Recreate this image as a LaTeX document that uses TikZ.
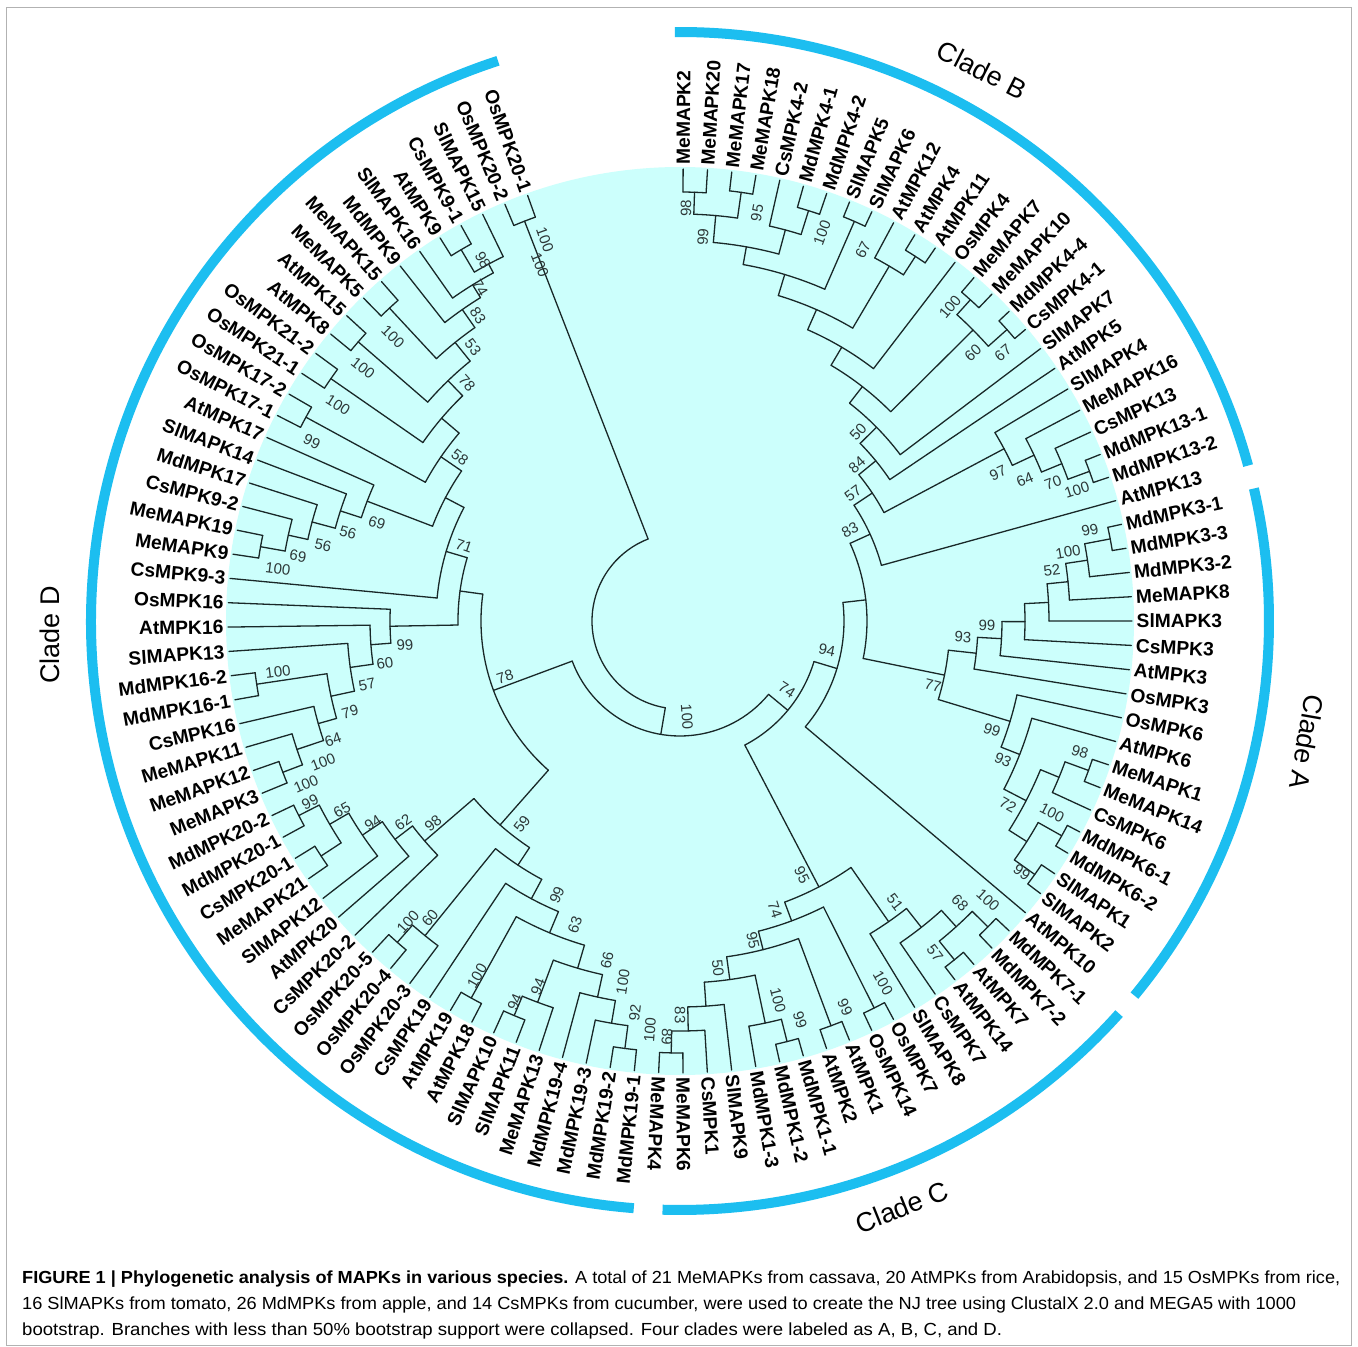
\documentclass[tikz,border=0pt]{standalone}
\usepackage{fontspec}
\setmainfont{Liberation Sans}
\usepackage{graphicx}
\definecolor{cyanbg}{RGB}{204,255,252}
\definecolor{ringblue}{RGB}{28,190,240}
\definecolor{brcol}{RGB}{25,40,40}
\definecolor{bscol}{RGB}{45,55,55}
\newcommand\capfont{\fontsize{17.5}{20}\selectfont}
\newsavebox\capA\newsavebox\capB\newsavebox\capC
\newlength\capwA\newlength\capwB\newlength\capwC
\newcounter{bsc}
\makeatletter
\newcommand\Leaf[3]{%
  \pgfmathsetmacro\tlA{89.6-(#2-1)*3.09}%
  \expandafter\xdef\csname TA@#1\endcsname{\tlA}%
  \expandafter\xdef\csname TR@#1\endcsname{452}%
  \ifnum#2<61\relax
    \node[leaflab,anchor=west,rotate=\tlA] (#1) at (\tlA:455pt) {#3};%
  \else
    \pgfmathsetmacro\tlR{\tlA+180}%
    \node[leaflab,anchor=east,rotate=\tlR] (#1) at (\tlA:455pt) {#3};%
  \fi}
\newcommand\Inode[3]{%
  \let\tfirst\relax
  \@for\tnC:=#3\do{\ifx\tfirst\relax\edef\tfirst{\tnC}\fi\edef\tlast{\tnC}}%
  \edef\tfa{\csname TA@\tfirst\endcsname}%
  \edef\tla{\csname TA@\tlast\endcsname}%
  \pgfmathsetmacro\tna{(\tfa+\tla)/2}%
  \expandafter\xdef\csname TA@#1\endcsname{\tna}%
  \expandafter\xdef\csname TR@#1\endcsname{#2}%
  \draw[br] (\tfa:#2pt) arc[start angle=\tfa, end angle=\tla, radius=#2pt];%
  \@for\tnC:=#3\do{%
    \edef\tca{\csname TA@\tnC\endcsname}\edef\tcr{\csname TR@\tnC\endcsname}%
    \draw[br] (\tca:#2pt) -- (\tca:\tcr pt);}%
  \coordinate (#1) at (\tna:#2pt);}
\newcommand\BS[3]{%
  \stepcounter{bsc}%
  \pgfmathsetmacro\bx{#1-680}\pgfmathsetmacro\by{621-#2}%
  \pgfmathsetmacro\ba{atan2(\by,\bx)}%
  \pgfmathsetmacro\brot{(\ba>-93.5 && \ba<95) ? \ba : \ba+180}%
  \node[bslab,rotate=\brot] (bs\thebsc) at (\bx pt,\by pt) {#3};}
\makeatother
\tikzset{
  br/.style={draw=brcol, line width=1.3pt, line cap=round},
  leaflab/.style={font=\fontsize{19.2}{22}\selectfont\bfseries, inner sep=1.5pt, text=black},
  bslab/.style={font=\fontsize{15}{17}\selectfont, text=bscol, inner sep=0pt},
  cladelab/.style={font=\fontsize{27}{30}\selectfont, text=black},
  ring/.style={draw=ringblue, line width=10pt},
  capline/.style={anchor=base west, inner sep=0pt},
}
\begin{document}
\sbox\capA{\capfont\textbf{FIGURE 1 | Phylogenetic analysis of MAPKs in various species.} A total of 21 MeMAPKs from cassava, 20 AtMPKs from Arabidopsis, and 15 OsMPKs from rice,}%
\sbox\capB{\capfont 16 SlMAPKs from tomato, 26 MdMPKs from apple, and 14 CsMPKs from cucumber, were used to create the NJ tree using ClustalX 2.0 and MEGA5 with 1000}%
\sbox\capC{\capfont bootstrap. Branches with less than 50\% bootstrap support were collapsed. Four clades were labeled as A, B, C, and D.}%
\setlength\capwA{\wd\capA}\setlength\capwB{\wd\capB}\setlength\capwC{\wd\capC}%
\pgfmathsetmacro\capsfA{1318/\capwA}\pgfmathsetmacro\capsfB{1274/\capwB}\pgfmathsetmacro\capsfC{980/\capwC}%
\begin{tikzpicture}
\useasboundingbox (-680pt,621pt) rectangle (678pt,-726pt);
\fill[white] (-680pt,621pt) rectangle (678pt,-726pt);
\draw[gray!60, line width=1pt] (-673pt,613pt) rectangle (671pt,-724pt);
\fill[cyanbg] (0,0) circle[radius=454pt];
% clade rings
\draw[ring] (90.5:589pt) arc[start angle=90.5, end angle=15.3, radius=589pt];
\draw[ring] (13:589pt) arc[start angle=13, end angle=-39.5, radius=589pt];
\draw[ring] (-41.8:589pt) arc[start angle=-41.8, end angle=-91.7, radius=589pt];
\draw[ring] (-94.5:589pt) arc[start angle=-94.5, end angle=-252, radius=589pt];
\node[cladelab, rotate=-27] (cB) at (302pt,551pt) {Clade B};
\node[cladelab, rotate=-100] (cA) at (627pt,-121pt) {Clade A};
\node[cladelab, rotate=22] (cC) at (222pt,-586pt) {Clade C};
\node[cladelab, rotate=90] (cD) at (-630pt,-14pt) {Clade D};
% leaves
\Leaf{l1}{1}{MeMAPK2}\Leaf{l2}{2}{MeMAPK20}\Leaf{l3}{3}{MeMAPK17}\Leaf{l4}{4}{MeMAPK18}
\Leaf{l5}{5}{CsMPK4-2}\Leaf{l6}{6}{MdMPK4-1}\Leaf{l7}{7}{MdMPK4-2}\Leaf{l8}{8}{SlMAPK5}
\Leaf{l9}{9}{SlMAPK6}\Leaf{l10}{10}{AtMPK12}\Leaf{l11}{11}{AtMPK4}\Leaf{l12}{12}{AtMPK11}
\Leaf{l13}{13}{OsMPK4}\Leaf{l14}{14}{MeMAPK7}\Leaf{l15}{15}{MeMAPK10}\Leaf{l16}{16}{MdMPK4-4}
\Leaf{l17}{17}{CsMPK4-1}\Leaf{l18}{18}{SlMAPK7}\Leaf{l19}{19}{AtMPK5}\Leaf{l20}{20}{SlMAPK4}
\Leaf{l21}{21}{MeMAPK16}\Leaf{l22}{22}{CsMPK13}\Leaf{l23}{23}{MdMPK13-1}\Leaf{l24}{24}{MdMPK13-2}
\Leaf{l25}{25}{AtMPK13}\Leaf{l26}{26}{MdMPK3-1}\Leaf{l27}{27}{MdMPK3-3}\Leaf{l28}{28}{MdMPK3-2}
\Leaf{l29}{29}{MeMAPK8}\Leaf{l30}{30}{SlMAPK3}\Leaf{l31}{31}{CsMPK3}\Leaf{l32}{32}{AtMPK3}
\Leaf{l33}{33}{OsMPK3}\Leaf{l34}{34}{OsMPK6}\Leaf{l35}{35}{AtMPK6}\Leaf{l36}{36}{MeMAPK1}
\Leaf{l37}{37}{MeMAPK14}\Leaf{l38}{38}{CsMPK6}\Leaf{l39}{39}{MdMPK6-1}\Leaf{l40}{40}{MdMPK6-2}
\Leaf{l41}{41}{SlMAPK1}\Leaf{l42}{42}{SlMAPK2}\Leaf{l43}{43}{AtMPK10}\Leaf{l44}{44}{MdMPK7-1}
\Leaf{l45}{45}{MdMPK7-2}\Leaf{l46}{46}{AtMPK7}\Leaf{l47}{47}{AtMPK14}\Leaf{l48}{48}{CsMPK7}
\Leaf{l49}{49}{SlMAPK8}\Leaf{l50}{50}{OsMPK7}\Leaf{l51}{51}{OsMPK14}\Leaf{l52}{52}{AtMPK1}
\Leaf{l53}{53}{AtMPK2}\Leaf{l54}{54}{MdMPK1-1}\Leaf{l55}{55}{MdMPK1-2}\Leaf{l56}{56}{MdMPK1-3}
\Leaf{l57}{57}{SlMAPK9}\Leaf{l58}{58}{CsMPK1}\Leaf{l59}{59}{MeMAPK6}\Leaf{l60}{60}{MeMAPK4}
\Leaf{l61}{61}{MdMPK19-1}\Leaf{l62}{62}{MdMPK19-2}\Leaf{l63}{63}{MdMPK19-3}\Leaf{l64}{64}{MdMPK19-4}
\Leaf{l65}{65}{MeMAPK13}\Leaf{l66}{66}{SlMAPK11}\Leaf{l67}{67}{SlMAPK10}\Leaf{l68}{68}{AtMPK18}
\Leaf{l69}{69}{AtMPK19}\Leaf{l70}{70}{CsMPK19}\Leaf{l71}{71}{OsMPK20-3}\Leaf{l72}{72}{OsMPK20-4}
\Leaf{l73}{73}{OsMPK20-5}\Leaf{l74}{74}{CsMPK20-2}\Leaf{l75}{75}{AtMPK20}\Leaf{l76}{76}{SlMAPK12}
\Leaf{l77}{77}{MeMAPK21}\Leaf{l78}{78}{CsMPK20-1}\Leaf{l79}{79}{MdMPK20-1}\Leaf{l80}{80}{MdMPK20-2}
\Leaf{l81}{81}{MeMAPK3}\Leaf{l82}{82}{MeMAPK12}\Leaf{l83}{83}{MeMAPK11}\Leaf{l84}{84}{CsMPK16}
\Leaf{l85}{85}{MdMPK16-1}\Leaf{l86}{86}{MdMPK16-2}\Leaf{l87}{87}{SlMAPK13}\Leaf{l88}{88}{AtMPK16}
\Leaf{l89}{89}{OsMPK16}\Leaf{l90}{90}{CsMPK9-3}\Leaf{l91}{91}{MeMAPK9}\Leaf{l92}{92}{MeMAPK19}
\Leaf{l93}{93}{CsMPK9-2}\Leaf{l94}{94}{MdMPK17}\Leaf{l95}{95}{SlMAPK14}\Leaf{l96}{96}{AtMPK17}
\Leaf{l97}{97}{OsMPK17-1}\Leaf{l98}{98}{OsMPK17-2}\Leaf{l99}{99}{OsMPK21-1}\Leaf{l100}{100}{OsMPK21-2}
\Leaf{l101}{101}{AtMPK8}\Leaf{l102}{102}{AtMPK15}\Leaf{l103}{103}{MeMAPK5}\Leaf{l104}{104}{MeMAPK15}
\Leaf{l105}{105}{MdMPK9}\Leaf{l106}{106}{SlMAPK16}\Leaf{l107}{107}{AtMPK9}\Leaf{l108}{108}{CsMPK9-1}
\Leaf{l109}{109}{SlMAPK15}\Leaf{l110}{110}{OsMPK20-2}\Leaf{l111}{111}{OsMPK20-1}
% clade B
\Inode{B98}{429}{l1,l2}
\Inode{B95}{433}{l3,l4}
\Inode{B99}{407}{B98,B95}
\Inode{B100a}{430}{l6,l7}
\Inode{Bcs}{405}{l5,B100a}
\Inode{Q1}{380}{B99,Bcs}
\Inode{B67a}{436}{l8,l9}
\Inode{Q2}{362}{Q1,B67a}
\Inode{Bat2}{434}{l11,l12}
\Inode{Bat}{412}{l10,Bat2}
\Inode{Q3}{340}{Q2,Bat}
\Inode{X1}{318}{Q3,l13}
\Inode{B100b}{433}{l14,l15}
\Inode{B67b}{438}{l16,l17}
\Inode{B60}{413}{B100b,B67b}
\Inode{X2}{297}{X1,B60}
\Inode{X3}{276}{X2,l18}
\Inode{X4}{253}{X3,l19}
\Inode{B100c}{436}{l23,l24}
\Inode{B70}{413}{l22,B100c}
\Inode{B64}{391}{l21,B70}
\Inode{B97}{367}{l20,B64}
\Inode{X5}{231}{X4,B97}
\Inode{X6}{209}{X5,l25}
% clade A
\Inode{A99a}{438}{l26,l27}
\Inode{A100}{412}{A99a,l28}
\Inode{A52}{390}{A100,l29}
\Inode{Asl}{369}{A52,l30}
\Inode{Acs}{345}{Asl,l31}
\Inode{A99u}{322}{Acs,l32}
\Inode{A93}{298}{A99u,l33}
\Inode{A98}{435}{l36,l37}
\Inode{Acs6}{410}{A98,l38}
\Inode{A100b}{438}{l39,l40}
\Inode{A99b}{436}{l41,l42}
\Inode{Amd}{411}{A100b,A99b}
\Inode{A72}{390}{Acs6,Amd}
\Inode{A93L}{365}{l35,A72}
\Inode{A99L}{345}{l34,A93L}
\Inode{A77}{270}{A93,A99L}
\Inode{P}{187}{X6,A77}
\Inode{N94}{164}{P,l43}
% clade C
\Inode{C100m}{434}{l44,l45}
\Inode{C57}{436}{l46,l47}
\Inode{C68}{412}{C100m,C57}
\Inode{Ccs}{390}{C68,l48}
\Inode{C51}{366}{Ccs,l49}
\Inode{C100o}{433}{l50,l51}
\Inode{C99a}{432}{l52,l53}
\Inode{C99md}{434}{l54,l55}
\Inode{C100md}{411}{C99md,l56}
\Inode{C89}{432}{l59,l60}
\Inode{C83}{410}{l58,C89}
\Inode{Csl}{386}{l57,C83}
\Inode{C50}{362}{C100md,Csl}
\Inode{C95b}{339}{C99a,C50}
\Inode{C74}{320}{C100o,C95b}
\Inode{C95}{300}{C51,C74}
\Inode{N74}{140}{N94,C95}
% clade D
\Inode{D100p}{431}{l61,l62}
\Inode{D92}{408}{D100p,l63}
\Inode{D100md}{385}{D92,l64}
\Inode{D94p}{428}{l66,l67}
\Inode{D94b}{407}{l65,D94p}
\Inode{D66}{362}{D100md,D94b}
\Inode{D100at}{431}{l68,l69}
\Inode{D63}{338}{D66,D100at}
\Inode{D99b}{315}{D63,l70}
\Inode{D100o}{428}{l72,l73}
\Inode{D60o}{405}{l71,D100o}
\Inode{Zc}{293}{D99b,D60o}
\Inode{Dmc}{429}{l77,l78}
\Inode{D99m}{428}{l79,l80}
\Inode{D65}{405}{Dmc,D99m}
\Inode{D94d}{383}{l76,D65}
\Inode{D62}{359}{l75,D94d}
\Inode{D98d}{337}{l74,D62}
\Inode{D59}{272}{Zc,D98d}
\Inode{Lme}{425}{l81,l82}
\Inode{Lme2}{404}{Lme,l83}
\Inode{L64}{376}{Lme2,l84}
\Inode{L100a}{428}{l85,l86}
\Inode{L79}{357}{L64,L100a}
\Inode{L57}{333}{L79,l87}
\Inode{L60}{310}{L57,l88}
\Inode{L99}{290}{L60,l89}
\Inode{P1}{426}{l91,l92}
\Inode{P2}{401}{P1,l93}
\Inode{P3}{381}{P2,l94}
\Inode{P4}{357}{P3,l95}
\Inode{P5}{335}{P4,l96}
\Inode{O17}{426}{l97,l98}
\Inode{O21}{425}{l99,l100}
\Inode{A1}{426}{l101,l102}
\Inode{M1}{427}{l103,l104}
\Inode{D98}{431}{l107,l108}
\Inode{D74}{405}{D98,l109}
\Inode{Dx}{395}{l106,D74}
\Inode{D83}{380}{l105,Dx}
\Inode{D53}{358}{M1,D83}
\Inode{D78}{334}{A1,D53}
\Inode{Dos}{313}{O21,D78}
\Inode{D58}{290}{O17,Dos}
\Inode{DY}{265}{P5,D58}
\Inode{D71}{244}{l90,DY}
\Inode{Na}{222}{L99,D71}
\Inode{N78D}{199}{D59,Na}
\Inode{N100}{115}{N74,N78D}
\Inode{Pos20}{429}{l110,l111}
\Inode{root}{88}{N100,Pos20}
% bootstrap values
\BS{686}{208}{98}\BS{703}{237}{99}\BS{757}{213}{95}\BS{822}{233}{100}\BS{863}{250}{67}
\BS{950}{307}{100}\BS{973}{353}{60}\BS{1003}{353}{67}\BS{858}{432}{50}\BS{857}{465}{84}
\BS{853}{493}{57}\BS{850}{530}{83}\BS{998}{473}{97}\BS{1025}{480}{64}\BS{1053}{483}{70}
\BS{1077}{490}{100}
\BS{1090}{530}{99}\BS{1068}{552}{100}\BS{1052}{570}{52}\BS{987}{625}{99}\BS{963}{637}{93}
\BS{933}{686}{77}\BS{992}{730}{99}\BS{1003}{760}{93}\BS{1008}{805}{72}\BS{1080}{752}{98}
\BS{1052}{813}{100}\BS{1022}{872}{99}\BS{827}{650}{94}\BS{787}{690}{74}\BS{687}{717}{100}
\BS{802}{875}{95}\BS{895}{902}{51}\BS{960}{903}{68}\BS{988}{900}{100}\BS{935}{953}{57}
\BS{883}{983}{100}\BS{845}{1007}{99}\BS{775}{910}{74}\BS{753}{940}{95}\BS{718}{968}{50}
\BS{778}{1000}{100}\BS{800}{1020}{99}\BS{680}{1015}{83}\BS{667}{1037}{89}
\BS{607}{960}{66}\BS{623}{982}{100}\BS{635}{1013}{92}\BS{650}{1030}{100}\BS{538}{987}{94}
\BS{515}{1002}{94}\BS{477}{976}{100}\BS{575}{925}{63}\BS{557}{895}{99}\BS{522}{824}{59}
\BS{433}{823}{98}\BS{403}{822}{62}\BS{373}{823}{94}\BS{342}{810}{65}\BS{310}{802}{99}
\BS{306}{784}{100}\BS{323}{762}{100}\BS{408}{922}{100}\BS{430}{918}{60}\BS{505}{677}{78}
\BS{278}{672}{100}\BS{405}{645}{99}\BS{385}{663}{60}\BS{367}{685}{57}\BS{350}{712}{79}
\BS{333}{740}{64}\BS{278}{569}{100}\BS{298}{556}{69}\BS{323}{545}{56}\BS{348}{533}{56}
\BS{377}{523}{69}\BS{312}{442}{99}\BS{338}{405}{100}\BS{363}{368}{100}\BS{393}{337}{100}
\BS{460}{457}{58}\BS{467}{383}{78}\BS{473}{347}{53}\BS{478}{316}{83}\BS{480}{288}{74}
\BS{483}{260}{98}\BS{464}{546}{71}\BS{545}{240}{100}\BS{540}{265}{100}
% caption
\node[capline] (cap1) at (-658pt,-662pt) {\scalebox{\capsfA}[1]{\usebox\capA}};
\node[capline] (cap2) at (-658pt,-688pt) {\scalebox{\capsfB}[1]{\usebox\capB}};
\node[capline] (cap3) at (-658pt,-714pt) {\scalebox{\capsfC}[1]{\usebox\capC}};
\end{tikzpicture}
\end{document}
